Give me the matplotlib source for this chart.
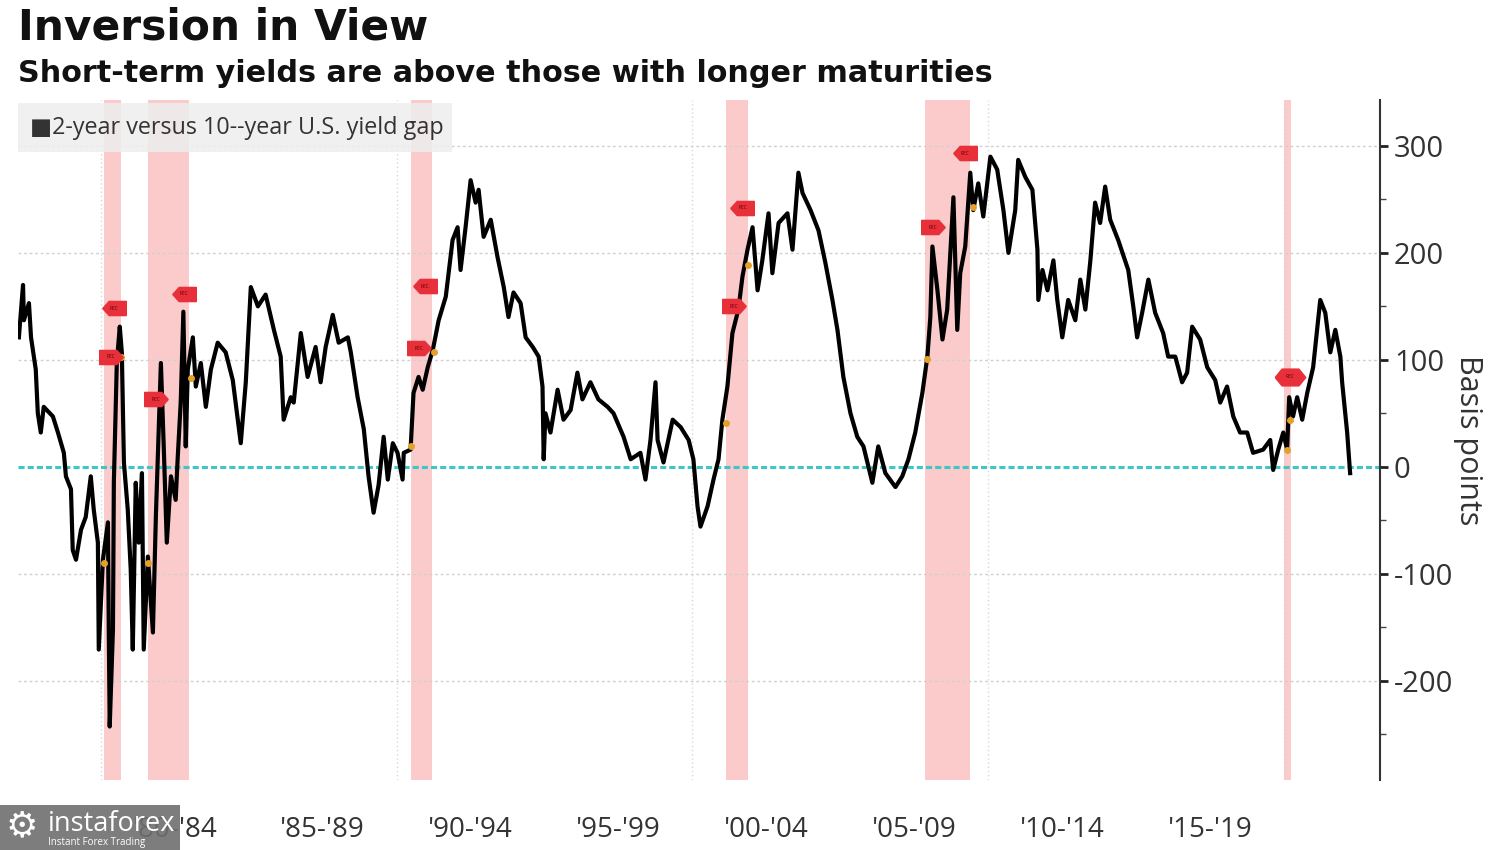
import matplotlib
matplotlib.use("Agg")
import matplotlib.pyplot as plt
from matplotlib.path import Path
from matplotlib.patches import Rectangle

# 2-year vs 10-year spread (year, basis points)
years = [
    1977.23, 1977.37, 1977.40, 1977.57, 1977.64, 1977.80, 1977.87, 1977.97, 1978.07, 1978.38,
    1978.55, 1978.75, 1978.82, 1978.99, 1979.05, 1979.16, 1979.33, 1979.49, 1979.66, 1979.76,
    1979.90, 1979.93, 1980.07, 1980.24, 1980.27, 1980.30, 1980.41, 1980.44, 1980.54, 1980.64,
    1980.71, 1980.78, 1980.91, 1981.01, 1981.08, 1981.18, 1981.28, 1981.39, 1981.45, 1981.59,
    1981.76, 1981.86, 1982.03, 1982.13, 1982.23, 1982.37, 1982.53, 1982.60, 1982.70, 1982.79,
    1982.87, 1982.94, 1983.11, 1983.21, 1983.38, 1983.55, 1983.72, 1983.95, 1984.22, 1984.46,
    1984.73, 1984.90, 1985.07, 1985.31, 1985.57, 1985.85, 1986.08, 1986.18, 1986.42, 1986.52,
    1986.76, 1986.99, 1987.26, 1987.43, 1987.60, 1987.84, 1988.04, 1988.35, 1988.45, 1988.68,
    1988.89, 1989.05, 1989.22, 1989.39, 1989.56, 1989.70, 1989.87, 1990.03, 1990.20, 1990.24,
    1990.47, 1990.57, 1990.74, 1990.88, 1991.05, 1991.22, 1991.42, 1991.66, 1991.89, 1992.06,
    1992.16, 1992.33, 1992.50, 1992.67, 1992.77, 1992.94, 1993.18, 1993.41, 1993.62, 1993.78,
    1993.95, 1994.19, 1994.36, 1994.60, 1994.80, 1994.93, 1994.97, 1995.03, 1995.20, 1995.44,
    1995.64, 1995.88, 1996.11, 1996.28, 1996.55, 1996.82, 1997.13, 1997.33, 1997.67, 1997.91,
    1998.24, 1998.41, 1998.58, 1998.75, 1998.82, 1999.02, 1999.33, 1999.60, 1999.87, 2000.03,
    2000.17, 2000.27, 2000.51, 2000.71, 2000.88, 2001.01, 2001.18, 2001.35, 2001.55, 2001.69,
    2001.86, 2002.03, 2002.20, 2002.36, 2002.57, 2002.70, 2002.91, 2003.21, 2003.38, 2003.58,
    2003.72, 2003.99, 2004.26, 2004.49, 2004.73, 2004.90, 2005.10, 2005.34, 2005.57, 2005.78,
    2006.08, 2006.28, 2006.52, 2006.86, 2007.09, 2007.30, 2007.53, 2007.77, 2007.94, 2008.04,
    2008.11, 2008.28, 2008.45, 2008.61, 2008.82, 2008.95, 2009.05, 2009.22, 2009.39, 2009.49,
    2009.66, 2009.83, 2010.07, 2010.30, 2010.51, 2010.68, 2010.91, 2011.01, 2011.25, 2011.49,
    2011.66, 2011.69, 2011.83, 2012.00, 2012.20, 2012.33, 2012.50, 2012.70, 2012.94, 2013.11,
    2013.28, 2013.45, 2013.61, 2013.78, 2013.95, 2014.12, 2014.39, 2014.73, 2014.90, 2015.03,
    2015.20, 2015.41, 2015.64, 2015.91, 2016.08, 2016.32, 2016.55, 2016.72, 2016.89, 2017.16,
    2017.40, 2017.67, 2017.84, 2018.07, 2018.28, 2018.51, 2018.75, 2018.95, 2019.29, 2019.53,
    2019.63, 2019.80, 2019.97, 2020.10, 2020.17, 2020.30, 2020.44, 2020.61, 2020.78, 2020.98,
    2021.22, 2021.39, 2021.56, 2021.73, 2021.90, 2021.96, 2022.13, 2022.23,
]
spread_bp = [
    121, 170, 137, 153, 121, 91, 50, 32, 56, 47,
    32, 13, -9, -21, -78, -87, -59, -47, -9, -40,
    -71, -171, -87, -52, -159, -243, -152, -15, 97, 131,
    107, 4, -40, -96, -171, -15, -71, -6, -171, -84,
    -155, -47, 97, 16, -71, -9, -31, 9, 60, 145,
    19, 91, 121, 75, 97, 56, 91, 116, 107, 81,
    22, 79, 168, 150, 161, 128, 103, 44, 65, 60,
    125, 84, 112, 79, 112, 142, 116, 121, 107, 65,
    35, -9, -43, -17, 28, -12, 22, 13, -12, 13,
    16, 69, 84, 72, 93, 109, 137, 159, 212, 224,
    184, 224, 268, 247, 259, 215, 231, 196, 168, 140,
    163, 153, 121, 112, 103, 75, 7, 50, 32, 72,
    44, 53, 88, 63, 79, 63, 56, 50, 28, 7,
    13, -12, 25, 79, 25, 4, 44, 37, 25, 7,
    -37, -56, -37, -12, 7, 44, 75, 125, 147, 178,
    203, 224, 165, 193, 237, 181, 228, 237, 203, 275,
    256, 240, 221, 191, 156, 128, 84, 50, 28, 19,
    -15, 19, -6, -19, -9, 7, 32, 69, 103, 140,
    206, 165, 119, 147, 252, 128, 181, 206, 275, 240,
    265, 234, 290, 278, 240, 200, 240, 287, 271, 259,
    203, 156, 184, 165, 193, 156, 121, 156, 137, 175,
    147, 193, 247, 228, 262, 231, 212, 184, 150, 121,
    144, 175, 144, 125, 103, 103, 79, 88, 131, 119,
    93, 81, 60, 75, 47, 32, 32, 13, 16, 25,
    -3, 16, 32, 16, 65, 47, 65, 44, 69, 93,
    156, 144, 107, 128, 103, 79, 32, -6,
]

# recession shading (start, end)
rec_start = [1980.10, 1981.59, 1990.47, 2001.12, 2007.87, 2020.00]
rec_end = [1980.68, 1982.97, 1991.18, 2001.89, 2009.39, 2020.24]

# REC flags: year, level, which way they point
flag_years = [1980.34, 1980.44, 1981.86, 1982.80, 1990.74, 1990.95, 2001.39, 2001.69, 2008.14, 2009.22, 2020.20]
flag_bp = [103, 148, 63, 162, 111, 169, 150, 242, 224, 293, 84]
flag_kind = ["start", "end", "start", "end", "start", "end", "start", "end", "start", "end", "both"]

# orange dots where the series meets a recession edge
edge_years = [1980.10, 1980.68, 1981.59, 1983.04, 1990.47, 1991.25, 2001.12, 2001.89, 2007.94, 2009.49, 2020.10, 2020.20]
edge_bp = [-90, 103, -90, 83, 19, 107, 41, 189, 101, 243, 16, 44]

decade_lines = [1980, 1990, 2000, 2010, 2020]
period_centers = [1982.5, 1987.5, 1992.5, 1997.5, 2002.5, 2007.5, 2012.5, 2017.5]
period_labels = ["'80-'84", "'85-'89", "'90-'94", "'95-'99", "'00-'04", "'05-'09", "'10-'14", "'15-'19"]
y_ticks = [-200, -100, 0, 100, 200, 300]

plt.rcParams["axes.unicode_minus"] = False
plt.rcParams["font.family"] = ["Open Sans", "DejaVu Sans"]

fig = plt.figure(figsize=(15, 8.5), dpi=100)
ax = fig.add_axes([18 / 1500, 70 / 850, 1362 / 1500, 680 / 850])

for s, e in zip(rec_start, rec_end):
    ax.axvspan(s, e, color="#fbcaca", lw=0, zorder=0)
for d in decade_lines:
    ax.axvline(d, color="#d8d8d8", ls=(0, (1, 2)), lw=1, zorder=0.5)
for t in y_ticks:
    if t != 0:
        ax.axhline(t, color="#d0d0d0", ls=(0, (2, 2)), lw=1, zorder=0.5)
ax.axhline(0, color="#3fc6c6", ls=(0, (2, 1)), lw=2.2, zorder=1)

ax.plot(years, spread_bp, color="black", lw=3, zorder=3, solid_joinstyle="round")

flag_paths = {
    "end": Path([(-1, 0), (-0.45, 0.6), (1, 0.6), (1, -0.6), (-0.45, -0.6), (-1, 0)]),
    "start": Path([(1, 0), (0.45, 0.6), (-1, 0.6), (-1, -0.6), (0.45, -0.6), (1, 0)]),
    "both": Path([(-1, 0), (-0.55, 0.55), (0.55, 0.55), (1, 0), (0.55, -0.55), (-0.55, -0.55), (-1, 0)]),
}
for fx, fy, kind in zip(flag_years, flag_bp, flag_kind):
    ms = 22 if kind == "both" else 17
    ax.plot(fx, fy, marker=flag_paths[kind], ms=ms, color="#e8303a", mec="#e8303a", zorder=5)
    ax.text(fx, fy, "REC", fontsize=3.5, color="#5a0000", ha="center", va="center", zorder=6)
ax.plot(edge_years, edge_bp, "o", ms=4, color="#e3a12a", zorder=4)

ax.set_xlim(1977.2, 2023.24)
ax.set_ylim(-293, 343)

for side in ["left", "top", "bottom"]:
    ax.spines[side].set_visible(False)
ax.spines["right"].set_color("#333333")
ax.spines["right"].set_linewidth(1.5)
ax.yaxis.tick_right()
ax.set_yticks(y_ticks)
ax.set_yticks([-250, -150, -50, 50, 150, 250], minor=True)
ax.tick_params(axis="y", which="major", length=6, width=2, color="#222222",
               labelsize=21, labelcolor="#333333", pad=4)
ax.tick_params(axis="y", which="minor", length=4, width=1, color="#444444")
ax.set_xticks(period_centers)
ax.set_xticklabels(period_labels)
ax.tick_params(axis="x", length=0, labelsize=20, labelcolor="#333333", pad=26)

fig.text(1468 / 1500, 1 - 440 / 850, "Basis points", rotation=270, fontsize=22,
         color="#333333", ha="center", va="center")

fig.text(18 / 1500, 1 - 40 / 850, "Inversion in View", fontsize=30.5, fontweight="bold",
         family="DejaVu Sans", color="#111111", va="baseline")
fig.text(18 / 1500, 1 - 82 / 850, "Short-term yields are above those with longer maturities",
         fontsize=21.8, fontweight="bold", family="DejaVu Sans", color="#111111", va="baseline")

fig.patches.append(Rectangle((18 / 1500, 1 - 152 / 850), 434 / 1500, 49 / 850,
                             transform=fig.transFigure, facecolor="#eeeeee", alpha=0.85,
                             lw=0, zorder=2))
fig.text(30 / 1500, 1 - 128 / 850, "\u25a02-year versus 10--year U.S. yield gap", fontsize=16.8,
         color="#333333", va="center", zorder=3)

# watermark
fig.patches.append(Rectangle((0, 0), 180 / 1500, 45 / 850, transform=fig.transFigure,
                             facecolor="#6f6f6f", alpha=0.9, lw=0, zorder=4))
fig.text(6 / 1500, 1 - 826 / 850, "\u2699", fontsize=26, color="white", va="center", zorder=5,
         family="DejaVu Sans")
fig.text(48 / 1500, 1 - 824 / 850, "instaforex", fontsize=19.5, color="white", va="center", zorder=5)
fig.text(48 / 1500, 1 - 842 / 850, "Instant Forex Trading", fontsize=7, color="white", va="center",
         zorder=5)

fig.savefig("out.png", dpi=100)
